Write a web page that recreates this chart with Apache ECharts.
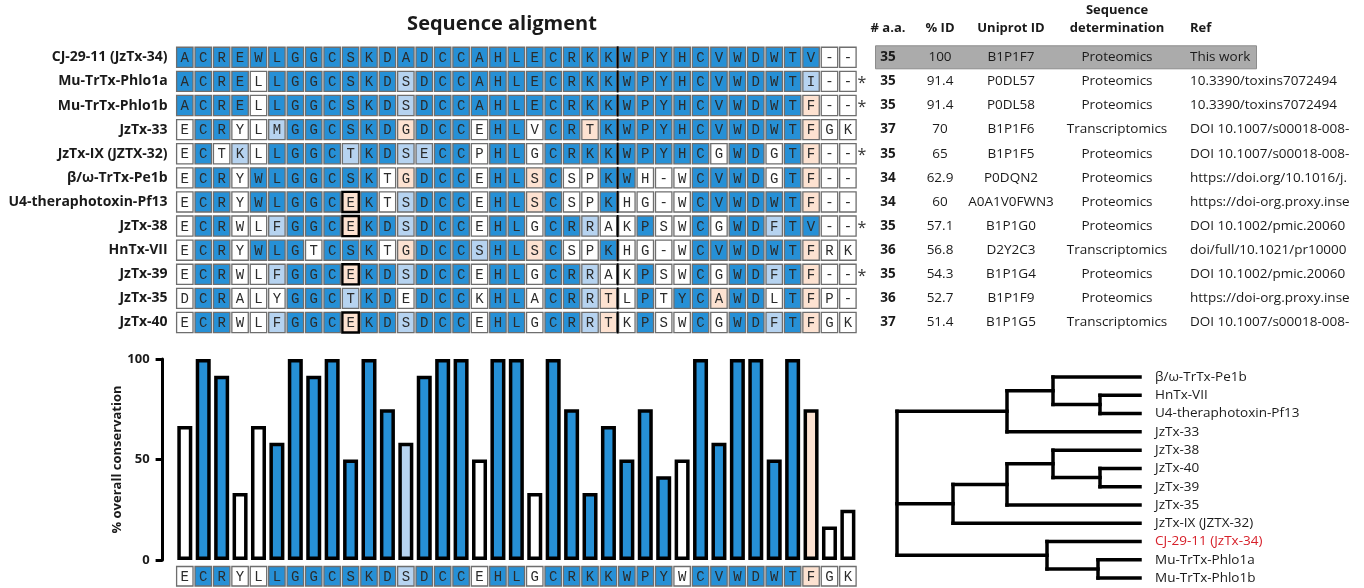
<!DOCTYPE html>
<html><head><meta charset="utf-8">
<script src="https://cdn.jsdelivr.net/npm/echarts@6/dist/echarts.min.js"></script>
<style>html,body{margin:0;padding:0;background:#fff}#c{width:1364px;height:588px}</style>
</head><body><div id="c"></div>
<script>
// ---------- DATA ----------
const seqNames = ['CJ-29-11 (JzTx-34)','Mu-TrTx-Phlo1a','Mu-TrTx-Phlo1b','JzTx-33','JzTx-IX (JZTX-32)','β/ω-TrTx-Pe1b','U4-theraphotoxin-Pf13','JzTx-38','HnTx-VII','JzTx-39','JzTx-35','JzTx-40'];
const sequences = [
  'ACREWLGGCSKDADCCAHLECRKKWPYHCVWDWTV--',
  'ACRELLGGCSKDSDCCAHLECRKKWPYHCVWDWTI--',
  'ACRELLGGCSKDSDCCAHLECRKKWPYHCVWDWTF--',
  'ECRYLMGGCSKDGDCCEHLVCRTKWPYHCVWDWTFGK',
  'ECTKLLGGCTKDSECCPHLGCRKKWPYHCGWDGTF--',
  'ECRYWLGGCSKTGDCCEHLSCSPKWH-WCVWDGTF--',
  'ECRYWLGGCEKTSDCCEHLSCSPKHG-WCVWDWTF--',
  'ECRWLFGGCEKDSDCCEHLGCRRAKPSWCGWDFTV--',
  'ECRYWLGTCSKTGDCCSHLSCSPKHG-WCVWDWTFRK',
  'ECRWLFGGCEKDSDCCEHLGCRRAKPSWCGWDFTF--',
  'DCRALYGGCTKDEDCCKHLACRRTLPTYCAWDLTFP-',
  'ECRWLFGGCEKDSDCCEHLGCRRTKPSWCGWDFTFGK'
];
// B = conserved (blue), L = similar (light blue), P = peach, W = white
const cellClasses = [
  'BBBBBBBBBBBBBBBBBBBBBBBBBBBBBBBBBBBWW',
  'BBBBWBBBBBBBLBBBBBBBBBBBBBBBBBBBBBLWW',
  'BBBBWBBBBBBBLBBBBBBBBBBBBBBBBBBBBBPWW',
  'WBBWWLBBBBBBPBBBWBBWBBPBBBBBBBBBBBPWW',
  'WBWLWBBBBLBBLLBBWBBWBBBBBBBBBWBBWBPWW',
  'WBBWBBBBBBBWPBBBWBBPBWWBBWWWBBBBWBPWW',
  'WBBWBBBBBPBWLBBBWBBPBWWBWWWWBBBBBBPWW',
  'WBBWWLBBBPBBLBBBWBBWBBLWWBWWBWBBLBBWW',
  'WBBWBBBWBBBWPBBBLBBPBWWBWWWWBBBBBBPWW',
  'WBBWWLBBBPBBLBBBWBBWBBLWWBWWBWBBLBPWW',
  'WBBWWWBBBLBBWBBBWBBWBBLPWBWBBPBBWBPWW',
  'WBBWWLBBBPBBLBBBWBBWBBLPWBWWBWBBLBPWW'
];
const outlinedCells = [[6,9],[7,9],[9,9],[11,9]]; // [row, column]
const aaCount = [35,35,35,37,35,34,34,35,36,35,36,37];
const pctIdentity = ['100','91.4','91.4','70','65','62.9','60','57.1','56.8','54.3','52.7','51.4'];
const uniprotIds = ['B1P1F7','P0DL57','P0DL58','B1P1F6','B1P1F5','P0DQN2','A0A1V0FWN3','B1P1G0','D2Y2C3','B1P1G4','B1P1F9','B1P1G5'];
const seqMethod = ['Proteomics','Proteomics','Proteomics','Transcriptomics','Proteomics','Proteomics','Proteomics','Proteomics','Transcriptomics','Proteomics','Proteomics','Transcriptomics'];
const references = ['This work','10.3390/toxins7072494','10.3390/toxins7072494','DOI 10.1007/s00018-008-','DOI 10.1007/s00018-008-','https://doi.org/10.1016/j.','https://doi-org.proxy.inse','DOI 10.1002/pmic.200600','doi/full/10.1021/pr10000','DOI 10.1002/pmic.200600','https://doi-org.proxy.inse','DOI 10.1007/s00018-008-'];
const starred = [false,true,true,false,true,false,false,true,false,true,false,false];
const tableHeaders = ['# a.a.','% ID','Uniprot ID','Sequence\ndetermination','Ref'];

const consensusSeq = 'ECRYLLGGCSKDSDCCEHLGCRKKWPYWCVWDWTFGK';
const consensusClasses = 'WBBWWBBBBBBBLBBBWBBWBBBBBBBWBBBBBBPWW';
const conservation = [66.7,100,91.7,33.3,66.7,58.3,100,91.7,100,50,100,75,58.3,91.7,100,100,50,100,
  100,33.3,100,75,33.3,66.7,50,75,41.7,50,100,58.3,100,100,50,100,75,16.7,25];

const treeLeaves = ['β/ω-TrTx-Pe1b','HnTx-VII','U4-theraphotoxin-Pf13','JzTx-33','JzTx-38','JzTx-40','JzTx-39','JzTx-35','JzTx-IX (JZTX-32)','CJ-29-11 (JzTx-34)','Mu-TrTx-Phlo1a','Mu-TrTx-Phlo1b'];
const highlightLeaf = 'CJ-29-11 (JzTx-34)';
const leafDepth = 243;
// node: [depth, children]; children are leaf indices (numbers) or node names
const treeNodes = {
  root: [0, ['A','B','C']],
  A:  [110, ['A1', 3]],
  A1: [156, [0, 'A2']],
  A2: [203, [1, 2]],
  B:  [56, ['B1', 8]],
  B1: [110, ['B2', 7]],
  B2: [156, [4, 'B3']],
  B3: [203, [5, 6]],
  C:  [150, [9, 'C1']],
  C1: [201, [10, 11]]
};

// ---------- LAYOUT / STYLE ----------
const COLORS = {B:'#2690d6', L:'#b6d3f0', P:'#fde2d1', W:'#ffffff'};
const SANS = '"Open Sans", "DejaVu Sans", sans-serif';
const MONO = '"Liberation Mono", "DejaVu Sans Mono", monospace';
const nCols = consensusSeq.length;
const colIdx = Array.from({length:nCols}, (_, i) => i);
const alnLeft = 175.6, alnWidth = 681.5;
const tableX = {star:862, aa:888, pct:940, uni:1011, meth:1117, ref:1190};

function makeCellRenderer(seqArr, clsArr, sepCol) {
  const outl = new Set(outlinedCells.map(d => d[0] + '_' + d[1]));
  return function (params, api) {
    const c = api.value(0), r = api.value(1);
    const p = api.coord([c, r]);
    const s = api.size([1, 1]);
    const w = s[0] - 2, h = s[1] - 4;
    const isOut = seqArr === sequences && outl.has(r + '_' + c);
    const ch = [
      {type:'rect', shape:{x:p[0]-w/2, y:p[1]-h/2, width:w, height:h},
       style:{fill:COLORS[clsArr[r][c]], stroke:isOut ? '#000' : '#6e6e6e', lineWidth:isOut ? 2.4 : 1.3}},
      {type:'text', style:{text:seqArr[r][c], x:p[0], y:p[1]+1, align:'center', verticalAlign:'middle',
       font:'14px ' + MONO, fill:'#2b2b2b'}}
    ];
    if (sepCol !== null && c === sepCol) {
      ch.push({type:'line', shape:{x1:p[0]-s[0]/2, y1:p[1]-h/2-1, x2:p[0]-s[0]/2, y2:p[1]+h/2+1},
        style:{stroke:'#000', lineWidth:1.8}});
    }
    return {type:'group', children:ch};
  };
}

// alignment cells
const alnData = [];
sequences.forEach((s, r) => { for (let c = 0; c < s.length; c++) alnData.push([c, r]); });
const consData = colIdx.map(c => [c, 0]);

// tree segments
const segs = [];
function nodeY(k) {
  if (typeof k === 'number') return k;
  const ys = treeNodes[k][1].map(nodeY);
  return (Math.min(...ys) + Math.max(...ys)) / 2;
}
function nodeDepth(k) { return typeof k === 'number' ? leafDepth : treeNodes[k][0]; }
function walk(k) {
  if (typeof k === 'number') return;
  const d = treeNodes[k][0];
  const kids = treeNodes[k][1];
  const ys = kids.map(nodeY);
  segs.push([d, Math.min(...ys), d, Math.max(...ys)]);
  kids.forEach((kid, i) => { segs.push([d, ys[i], nodeDepth(kid), ys[i]]); walk(kid); });
}
walk('root');

const chart = echarts.init(document.getElementById('c'), null, {renderer:'canvas', width:1364, height:588});

const option = {
  animation:false,
  backgroundColor:'#fff',
  title:{text:'Sequence aligment', left:497, top:9, textAlign:'center',
    textStyle:{fontFamily:SANS, fontWeight:'bold', fontSize:20, color:'#1a1a1a'}},
  graphic: tableHeaders.map((t, i) => {
    const xs = [tableX.aa, tableX.pct, tableX.uni, tableX.meth, tableX.ref];
    return {type:'text', x:xs[i], y:i === 3 ? 1 : 19,
      style:{text:t, align:i === 4 ? 'left' : 'center', font:'bold 13px ' + SANS, fill:'#1a1a1a', lineHeight:18}};
  }),
  grid:[
    {left:alnLeft, width:alnWidth, top:45.25, height:289.3},
    {left:alnLeft, width:alnWidth, top:359, height:201},
    {left:alnLeft, width:alnWidth, top:564.5, height:24},
    {left:897, width:leafDepth, top:367.9, height:219.3}
  ],
  xAxis:[
    {type:'category', gridIndex:0, data:colIdx, show:false},
    {type:'category', gridIndex:1, data:colIdx, show:false},
    {type:'category', gridIndex:2, data:colIdx, show:false},
    {type:'value', gridIndex:3, min:0, max:leafDepth, show:false}
  ],
  yAxis:[
    {type:'category', gridIndex:0, data:seqNames, inverse:true,
      axisLine:{show:false}, axisTick:{show:false},
      axisLabel:{margin:8, fontFamily:SANS, fontWeight:'bold', fontSize:14, color:'#1a1a1a'}},
    {type:'value', gridIndex:1, min:0, max:100, interval:50, offset:13,
      name:'% overall conservation', nameLocation:'middle', nameGap:35,
      nameTextStyle:{fontFamily:SANS, fontWeight:'bold', fontSize:13, color:'#1a1a1a'},
      axisLine:{show:true, lineStyle:{color:'#000', width:3}},
      axisTick:{show:true, length:7, lineStyle:{color:'#000', width:3}},
      splitLine:{show:false},
      axisLabel:{margin:13, fontFamily:SANS, fontWeight:'bold', fontSize:13, color:'#1a1a1a'}},
    {type:'category', gridIndex:2, data:['consensus'], show:false},
    {type:'value', gridIndex:3, min:-0.5, max:treeLeaves.length - 0.5, inverse:true, show:false},
    {type:'category', gridIndex:3, data:treeLeaves, inverse:true, position:'right',
      axisLine:{show:false}, axisTick:{show:false},
      axisLabel:{margin:15, fontFamily:SANS, fontSize:13.5, color:'#1a1a1a',
        formatter:v => v === highlightLeaf ? '{red|' + v + '}' : v,
        rich:{red:{color:'#d7202a', fontFamily:SANS, fontSize:13.5}}}}
  ],
  series:[
    {type:'custom', xAxisIndex:0, yAxisIndex:0, clip:false, data:alnData,
      renderItem:makeCellRenderer(sequences, cellClasses, 24)},
    {type:'custom', xAxisIndex:0, yAxisIndex:0, clip:false, data:seqNames.map((n, i) => [0, i]),
      renderItem:function (params, api) {
        const r = api.value(1);
        const y = api.coord([0, r])[1];
        const f = '13.5px ' + SANS;
        const ch = [];
        if (r === 0) ch.push({type:'rect', shape:{x:875.5, y:y-11.5, width:381, height:23},
          style:{fill:'#ababab', stroke:'#8c8c8c', lineWidth:1}});
        if (starred[r]) ch.push({type:'text', style:{text:'*', x:tableX.star, y:y+2, align:'center', verticalAlign:'middle', font:'16px ' + SANS, fill:'#333'}});
        ch.push({type:'text', style:{text:String(aaCount[r]), x:tableX.aa, y:y, align:'center', verticalAlign:'middle', font:'bold 13.5px ' + SANS, fill:'#1a1a1a'}});
        ch.push({type:'text', style:{text:pctIdentity[r], x:tableX.pct, y:y, align:'center', verticalAlign:'middle', font:f, fill:'#1a1a1a'}});
        ch.push({type:'text', style:{text:uniprotIds[r], x:tableX.uni, y:y, align:'center', verticalAlign:'middle', font:f, fill:'#1a1a1a'}});
        ch.push({type:'text', style:{text:seqMethod[r], x:tableX.meth, y:y, align:'center', verticalAlign:'middle', font:f, fill:'#1a1a1a'}});
        ch.push({type:'text', style:{text:references[r], x:tableX.ref, y:y, align:'left', verticalAlign:'middle', font:f, fill:'#1a1a1a',
          width:162, overflow:'truncate', ellipsis:''}});
        return {type:'group', children:ch};
      }},
    {type:'bar', xAxisIndex:1, yAxisIndex:1, barWidth:15,
      data:conservation.map((v, i) => ({value:v, itemStyle:{color:COLORS[consensusClasses[i]], borderColor:'#000', borderWidth:3.5}}))},
    {type:'custom', xAxisIndex:2, yAxisIndex:2, clip:false, data:consData,
      renderItem:makeCellRenderer([consensusSeq], [consensusClasses], null)},
    {type:'custom', xAxisIndex:3, yAxisIndex:3, clip:false, data:segs,
      encode:{x:[0,2], y:[1,3]},
      renderItem:function (params, api) {
        const a = api.coord([api.value(0), api.value(1)]);
        const b = api.coord([api.value(2), api.value(3)]);
        return {type:'line', shape:{x1:a[0], y1:a[1], x2:b[0], y2:b[1]},
          style:{stroke:'#000', lineWidth:3.5, lineCap:'square'}};
      }}
  ]
};
chart.setOption(option);
</script>
</body></html>
